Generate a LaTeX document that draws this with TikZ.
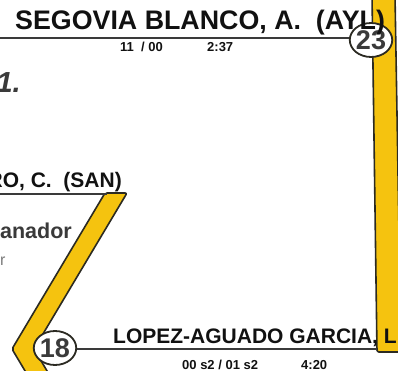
\documentclass[tikz,border=0pt]{standalone}
\usepackage{fontspec}
\setmainfont{Liberation Sans}
\usetikzlibrary{shapes.geometric}
\definecolor{gold}{HTML}{F5C30F}
\definecolor{edge}{HTML}{2B2A22}
\definecolor{ink}{HTML}{111111}
\definecolor{soft}{HTML}{3A3A3A}
\definecolor{faint}{HTML}{7A7A7A}

\begin{document}
\begin{tikzpicture}[
  x=1pt,y=-1pt,
  band/.style={fill=gold,draw=edge,line width=1.6pt,rounded corners=2pt},
  rail/.style={draw=soft,line width=2.2pt},
  seed/.style={ellipse,draw=edge,line width=1.8pt,fill=white,inner sep=0pt,
               minimum width=41pt,minimum height=34pt,text=soft,
               font=\bfseries\fontsize{27}{27}\selectfont},
  player/.style={inner sep=0pt,anchor=base west,text=ink,
               font=\bfseries\fontsize{21}{21}\selectfont},
  score/.style={inner sep=0pt,anchor=base west,text=ink,
                font=\bfseries\fontsize{13}{13}\selectfont}
]
\useasboundingbox (0,0) rectangle (398,371);
\clip (0,0) rectangle (398,371);
% yellow bands
\draw[band] (372,-5) -- (395,-5) -- (401,352) -- (377,352) -- cycle;
\draw[band] (105,193) -- (127,193) -- (34,349) -- (62,396) -- (40,396) -- (12,349) -- cycle;
% rails
\coordinate (c23) at (371,40);
\coordinate (c18) at (55,348);
\coordinate (topin) at (0,38);
\coordinate (midin) at (0,194);
\coordinate (midend) at (107,194);
\coordinate (botend) at (377,349);
\draw[rail] (topin) -- (topin -| c23);
\draw[rail] (midin) -- (midend);
\draw[rail] (c18 |- botend) -- (botend);
% seeds
\node[seed] (s23) at (c23) {23};
\node[seed] (s18) at (c18) {18};
% players
\node[player,font=\bfseries\fontsize{26.8}{26.8}\selectfont] (pA) at (15,30) {SEGOVIA BLANCO, A.\ \ (AYL)};
\node[score] (tA) at (120,52) {11\ \ / 00};
\node[score] (hA) at (207,52) {2:37};
\node[player,anchor=base east] (pB) at (122,187) {RO, C.\ \ (SAN)};
\node[player] (pC) at (113,343) {LOPEZ-AGUADO GARCIA, L};
\node[score] (tC) at (182,369) {00 s2 / 01 s2};
\node[score] (hC) at (301,369) {4:20};
% legend bits
\node[inner sep=0pt,anchor=base east,text=soft,
      font=\bfseries\fontsize{21.5}{21.5}\selectfont] (lg1) at (72,238) {anador};
\node[inner sep=0pt,anchor=base west,text=faint,
      font=\fontsize{16}{16}\selectfont] (lg2) at (0,265) {r};
\node[inner sep=0pt,anchor=base east,text=soft,
      font=\bfseries\itshape\fontsize{29}{29}\selectfont] (rk) at (21,93) {1.};
\end{tikzpicture}
\end{document}
